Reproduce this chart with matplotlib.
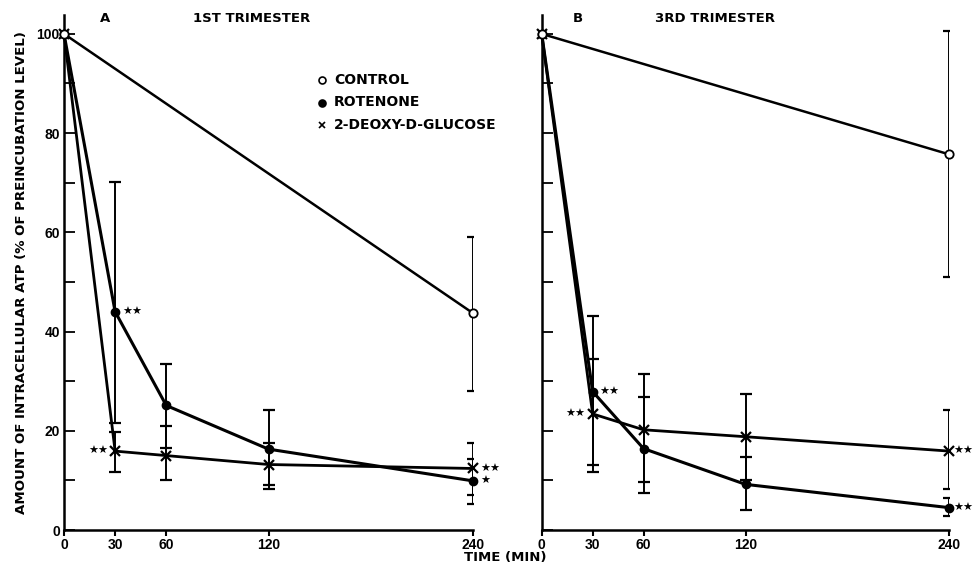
import matplotlib
matplotlib.use('Agg')
import matplotlib.pyplot as plt
import numpy as np

# ------------------------------------------------------------------
# Data
# ------------------------------------------------------------------
time_ctrl = [0, 240]
time_trt = [0, 30, 60, 120, 240]

# Panel A - 1st trimester
a_ctrl = [100, 43.7]
a_ctrl_lo = [100, 28.0]
a_ctrl_hi = [100, 59.1]

a_rot = [100, 44.0, 25.1, 16.3, 9.9]
a_rot_lo = [100, 21.5, 16.5, 8.2, 5.2]
a_rot_hi = [100, 70.1, 33.5, 24.2, 14.3]

a_dg = [100, 15.9, 15.0, 13.2, 12.4]
a_dg_lo = [100, 11.6, 10.1, 9.1, 7.1]
a_dg_hi = [100, 19.8, 21.0, 17.6, 17.5]

# Panel B - 3rd trimester
b_ctrl = [100, 75.7]
b_ctrl_lo = [100, 50.9]
b_ctrl_hi = [100, 100.5]

b_rot = [100, 27.9, 16.4, 9.2, 4.5]
b_rot_lo = [100, 11.6, 7.4, 4.0, 2.9]
b_rot_hi = [100, 43.1, 26.8, 14.7, 6.5]

b_dg = [100, 23.4, 20.2, 18.8, 15.9]
b_dg_lo = [100, 13.2, 9.6, 10.1, 8.2]
b_dg_hi = [100, 34.5, 31.5, 27.4, 24.1]

# significance marks: (time, series, text, side)
a_stars = [(30, 'rot', '★★', 'right'), (30, 'dg', '★★', 'left'),
           (240, 'dg', '★★', 'right'), (240, 'rot', '★', 'right')]
b_stars = [(30, 'rot', '★★', 'right'), (30, 'dg', '★★', 'left'),
           (240, 'dg', '★★', 'right'), (240, 'rot', '★★', 'right')]

xticks = [0, 30, 60, 120, 240]

plt.rcParams['font.family'] = ['Liberation Sans', 'DejaVu Sans']
FS = 10
TXT = dict(family='DejaVu Sans', fontweight='bold')

fig = plt.figure(figsize=(9.75, 5.66), dpi=100)
ax_a = fig.add_axes([64 / 975, 1 - 530 / 566, 409 / 975, 515 / 566])
ax_b = fig.add_axes([541.7 / 975, 1 - 530 / 566, 407.6 / 975, 515 / 566])


def draw_panel(ax, ctrl, ctrl_lo, ctrl_hi, rot, rot_lo, rot_hi,
               dg, dg_lo, dg_hi, stars, star_offset):
    def err(vals, lo, hi):
        v = np.array(vals)
        return [v - np.array(lo), np.array(hi) - v]

    # error bars (skip the 0 min point)
    for t, vals, lo, hi in [(time_ctrl, ctrl, ctrl_lo, ctrl_hi),
                            (time_trt, rot, rot_lo, rot_hi),
                            (time_trt, dg, dg_lo, dg_hi)]:
        e = err(vals, lo, hi)
        ax.errorbar(t[1:], vals[1:], yerr=[e[0][1:], e[1][1:]],
                    fmt='none', ecolor='black', elinewidth=1.4, capsize=4,
                    capthick=1.6, zorder=2)

    ax.plot(time_ctrl, ctrl, '-', color='black', lw=1.8, marker='o',
            ms=6, mfc='white', mec='black', mew=1.3, zorder=4, clip_on=False)
    ax.plot(time_trt, rot, '-', color='black', lw=2.2, marker='o',
            ms=6, mfc='black', mec='black', zorder=3, clip_on=False)
    ax.plot(time_trt, dg, '-', color='black', lw=2.0, marker='x',
            ms=7, mew=1.6, zorder=3, clip_on=False)

    lookup = {'rot': rot, 'dg': dg}
    for t, key, txt, side in stars:
        y = lookup[key][time_trt.index(t)]
        if side == 'right':
            off = star_offset if t == 240 else 5
            ax.annotate(txt, (t, y), xytext=(off, 0), textcoords='offset points',
                        ha='left', va='center', fontsize=8,
                        family='DejaVu Sans', annotation_clip=False)
        else:
            ax.annotate(txt, (t, y), xytext=(-5, 0), textcoords='offset points',
                        ha='right', va='center', fontsize=8,
                        family='DejaVu Sans', annotation_clip=False)

    ax.set_xlim(0, 240)
    ax.set_ylim(0, 103.8)
    ax.spines['top'].set_visible(False)
    ax.spines['right'].set_visible(False)
    for s in ['left', 'bottom']:
        ax.spines[s].set_linewidth(1.8)
    ax.set_xticks(xticks)
    ax.set_xticklabels([str(t) for t in xticks], fontsize=FS, fontweight='bold')
    ax.set_yticks(np.arange(0, 101, 10))
    ax.tick_params(axis='x', direction='out', length=4, width=1.5, pad=2)
    ax.tick_params(axis='y', direction='in', length=8, width=1.3, pad=3)


draw_panel(ax_a, a_ctrl, a_ctrl_lo, a_ctrl_hi, a_rot, a_rot_lo, a_rot_hi,
           a_dg, a_dg_lo, a_dg_hi, a_stars, 5)
draw_panel(ax_b, b_ctrl, b_ctrl_lo, b_ctrl_hi, b_rot, b_rot_lo, b_rot_hi,
           b_dg, b_dg_lo, b_dg_hi, b_stars, 3)

# y tick labels only on panel A, every 20
ax_a.set_yticklabels(['0', '', '20', '', '40', '', '60', '', '80', '', '100'],
                     fontsize=FS, fontweight='bold')
ax_b.set_yticklabels([])

ax_a.set_ylabel('AMOUNT OF INTRACELLULAR ATP (% OF PREINCUBATION LEVEL)',
                fontsize=9.6, labelpad=6, **TXT)

# panel titles
fig.text(105 / 975, 1 - 19 / 566, 'A', fontsize=9.5, ha='center', va='center', **TXT)
fig.text(252 / 975, 1 - 19 / 566, '1ST TRIMESTER', fontsize=9.5, ha='center',
         va='center', **TXT)
fig.text(578 / 975, 1 - 19 / 566, 'B', fontsize=9.5, ha='center', va='center', **TXT)
fig.text(715 / 975, 1 - 19 / 566, '3RD TRIMESTER', fontsize=9.5, ha='center',
         va='center', **TXT)

# legend (hand placed, like the original figure)
leg_items = [('o', 'white', 'CONTROL'), ('o', 'black', 'ROTENONE'),
             ('x', None, '2-DEOXY-D-GLUCOSE')]
for i, (mk, fc, label) in enumerate(leg_items):
    y = 1 - (80 + 22.5 * i) / 566
    if mk == 'x':
        fig.lines.append(plt.Line2D([322 / 975], [y], marker='x', color='black',
                                    ms=5, mew=1.2, transform=fig.transFigure))
    else:
        fig.lines.append(plt.Line2D([322 / 975], [y], marker='o', mfc=fc,
                                    mec='black', ms=5, mew=1.2, ls='none',
                                    transform=fig.transFigure))
    fig.text(334 / 975, y, label, fontsize=10, ha='left', va='center', **TXT)

fig.text(505 / 975, 2 / 566, 'TIME (MIN)', fontsize=9.5, ha='center',
         va='bottom', **TXT)

fig.savefig('out.png', dpi=100)
